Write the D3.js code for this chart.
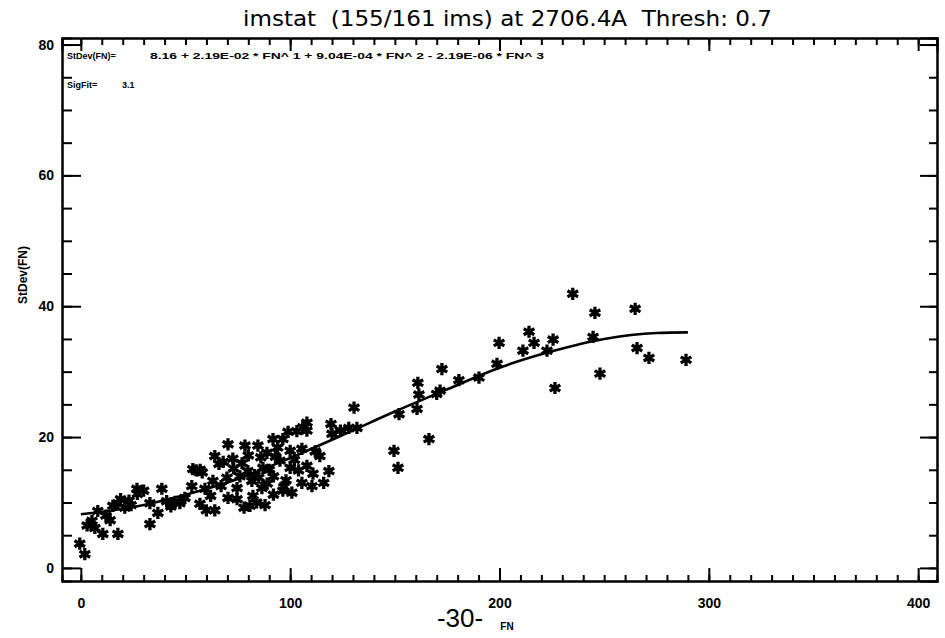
<!DOCTYPE html>
<html>
<head>
<meta charset="utf-8">
<script src="https://cdn.jsdelivr.net/npm/d3@7"></script>
<style>
  body { margin: 0; background: #fff; }
  svg { display: block; }
  .axis path, .axis line { stroke: #000; stroke-width: 2; }
  .axis text { font-family: "Liberation Sans", Arial, sans-serif; font-weight: bold; font-size: 14px; fill: #000; }
</style>
</head>
<body>
<div class="chart"></div>
<script>
let fnVals = [
  -0.5, 1.9, 5.3, 6.7, 8.1, 10.5, 17.7, 15.3, 17.7, 21, 19, 26.8, 33, 36.8, 33, 38.7, 41, 47.3, 49.7, 53,
  53.5, 56.9, 59.3, 63.1, 64, 69.8, 70.3, 70.3, 72.6, 74.6, 74.6, 78.4, 79.8, 80.8, 81.7, 82.2, 84.6, 86.5, 87, 88.9,
  91.8, 95.1, 96.5, 96.5, 100, 100, 100.8, 103.2, 105.6, 105.6, 108, 108, 110.4, 110.9, 114.2, 118.5, 119.5, 128, 131.9, 130.5,
  149.6, 151.5, 152, 160.6, 161, 161.5, 166.3, 170, 172.5, 171.6, 180.6, 190.2, 198.8, 199.8, 211.2, 214.1, 216.5, 222.7, 225.6, 226.5,
  235, 244.7, 245.6, 248, 264.8, 265.7, 271.4, 289.1,
  58, 62, 66, 67, 76, 77, 83, 85, 89, 90, 92, 93, 98, 102, 104, 112, 116, 60, 64, 78,
  84, 88, 92, 97, 73, 86, 57, 55, 68, 80, 94, 99, 106, 108, 120, 124, 45, 43, 27, 23,
  24, 12, 14, 3, 30
]
let sdVals = [
  3.7, 2.1, 7.2, 6.1, 8.7, 5.2, 5.2, 9.5, 9.9, 9.2, 10.5, 12.1, 9.9, 8.4, 6.7, 12.1, 10.2, 9.9, 10.7, 12.5,
  15.1, 9.8, 12.1, 13.3, 17.1, 13.8, 18.9, 10.7, 16.7, 12.2, 10.5, 18.7, 14.8, 9.5, 13.3, 11.0, 18.7, 12.2, 15.3, 17.6,
  19.7, 16.4, 19.7, 11.8, 17.9, 15.3, 11.5, 20.9, 18.2, 13.0, 22.2, 15.6, 12.5, 14.4, 17.1, 14.8, 22.0, 21.4, 21.4, 24.5,
  17.9, 15.3, 23.5, 24.3, 28.3, 26.5, 19.7, 26.6, 30.4, 27.1, 28.7, 29.1, 31.2, 34.4, 33.2, 36.1, 34.4, 33.2, 34.9, 27.5,
  41.9, 35.3, 39.0, 29.7, 39.6, 33.6, 32.1, 31.8,
  14.6, 11.0, 15.9, 12.5, 14.0, 16.0, 14.2, 13.8, 12.9, 15.0, 14.0, 17.0, 13.4, 16.5, 14.9, 17.8, 13.0, 8.8, 8.8, 9.2,
  10.0, 9.6, 11.2, 12.4, 15.2, 16.9, 15.0, 14.9, 16.2, 17.2, 18.4, 20.8, 21.5, 21.0, 20.5, 21.0, 10.1, 9.4, 11.3, 10.3,
  9.6, 8.0, 7.3, 6.5, 11.8
]

// fitted curve
let fitFN = [0, 25, 50, 75, 100, 125, 150, 175, 200, 225, 250, 275, 290]
let fitSD = [8.2, 9.3, 11.2, 13.6, 16.8, 20.3, 23.9, 27.3, 30.6, 33.1, 35.0, 35.9, 36.0]

let xMajor = [0, 100, 200, 300, 400]
let yMajor = [0, 20, 40, 60, 80]

let titleText = "imstat  (155/161 ims) at 2706.4A  Thresh: 0.7"
let fitLabel = "StDev(FN)="
let fitEquation = "8.16 + 2.19E-02 * FN^ 1 + 9.04E-04 * FN^ 2 - 2.19E-06 * FN^ 3"
let sigLabel = "SigFit="
let sigValue = "3.1"

let data = fnVals.map((d, i) => ({fn: d, sd: sdVals[i]}))
let fit = fitFN.map((d, i) => ({fn: d, sd: fitSD[i]}))

let outerWidth = 945
let outerHeight = 638
let margin = {top: 38, bottom: 57, left: 62, right: 8}
let width = outerWidth - margin.left - margin.right
let height = outerHeight - margin.top - margin.bottom

let root = d3.select(".chart")
    .append("svg")
    .attr("width", outerWidth)
    .attr("height", outerHeight)

let svg = root.append("g")
    .attr("transform", `translate(${margin.left}, ${margin.top})`)

// Scales
let xScale = d3.scaleLinear()
    .domain([-9, 409])
    .range([0, width])

let yScale = d3.scaleLinear()
    .domain([-2, 81])
    .range([height, 0])

let xMinor = d3.range(0, 410, 10)
let yMinor = d3.range(0, 81, 5)

// Axes: minor ticks first, then majors with labels
svg.append("g").attr("class", "axis")
    .attr("transform", `translate(0, ${height})`)
    .call(d3.axisBottom(xScale).tickValues(xMinor).tickSize(-6).tickFormat(""))
svg.append("g").attr("class", "axis")
    .attr("transform", `translate(0, ${height})`)
    .call(d3.axisBottom(xScale).tickValues(xMajor).tickSizeInner(-13).tickSizeOuter(0).tickPadding(17).tickFormat(d3.format("d")))

svg.append("g").attr("class", "axis")
    .call(d3.axisTop(xScale).tickValues(xMinor).tickSize(-7).tickFormat(""))
svg.append("g").attr("class", "axis")
    .call(d3.axisTop(xScale).tickValues(xMajor).tickSize(-13).tickFormat(""))

svg.append("g").attr("class", "axis")
    .call(d3.axisLeft(yScale).tickValues(yMinor).tickSize(-10).tickFormat(""))
svg.append("g").attr("class", "axis")
    .call(d3.axisLeft(yScale).tickValues(yMajor).tickSizeInner(-19).tickSizeOuter(0).tickPadding(8).tickFormat(d3.format("d")))

svg.append("g").attr("class", "axis")
    .attr("transform", `translate(${width}, 0)`)
    .call(d3.axisRight(yScale).tickValues(yMinor).tickSize(-8).tickFormat(""))
svg.append("g").attr("class", "axis")
    .attr("transform", `translate(${width}, 0)`)
    .call(d3.axisRight(yScale).tickValues(yMajor).tickSize(-17).tickFormat(""))

// Fit curve
let line = d3.line()
    .x(d => xScale(d.fn))
    .y(d => yScale(d.sd))
    .curve(d3.curveMonotoneX)

svg.append("path")
    .datum(fit)
    .attr("fill", "none")
    .attr("stroke", "#000")
    .attr("stroke-width", 2.6)
    .attr("d", line)

// Asterisk markers
let star = d3.symbol().type(d3.symbolAsterisk).size(105)

svg.selectAll(".pt")
    .data(data)
    .enter()
    .append("path")
    .attr("class", "pt")
    .attr("transform", d => `translate(${xScale(d.fn)}, ${yScale(d.sd)})`)
    .attr("d", star)
    .attr("fill", "none")
    .attr("stroke", "#000")
    .attr("stroke-width", 3.3)

// Annotations inside the box
let small = "bold 9px 'Liberation Sans', Arial, sans-serif"

svg.append("text")
    .attr("x", 5).attr("y", 21)
    .style("font", small)
    .text(fitLabel)

svg.append("text")
    .attr("x", 88).attr("y", 21)
    .attr("textLength", 394)
    .attr("lengthAdjust", "spacingAndGlyphs")
    .style("font", small)
    .text(fitEquation)

svg.append("text")
    .attr("x", 5).attr("y", 50)
    .style("font", small)
    .text(sigLabel)

svg.append("text")
    .attr("x", 60).attr("y", 50)
    .style("font", small)
    .text(sigValue)

// Title and axis labels
root.append("text")
    .attr("x", 243).attr("y", 26)
    .attr("textLength", 529)
    .attr("lengthAdjust", "spacingAndGlyphs")
    .style("white-space", "pre")
    .style("font", "21px 'DejaVu Sans Condensed', 'Liberation Sans', Arial, sans-serif")
    .text(titleText)

root.append("text")
    .attr("transform", "translate(27, 275) rotate(-90)")
    .attr("text-anchor", "middle")
    .style("font", "bold 12px 'Liberation Sans', Arial, sans-serif")
    .text("StDev(FN)")

root.append("text")
    .attr("x", 507).attr("y", 630)
    .attr("text-anchor", "middle")
    .style("font", "bold 10px 'Liberation Sans', Arial, sans-serif")
    .text("FN")

root.append("text")
    .attr("x", 460).attr("y", 627)
    .attr("text-anchor", "middle")
    .style("font", "26px 'Liberation Sans', Arial, sans-serif")
    .text("-30-")
</script>
</body>
</html>
